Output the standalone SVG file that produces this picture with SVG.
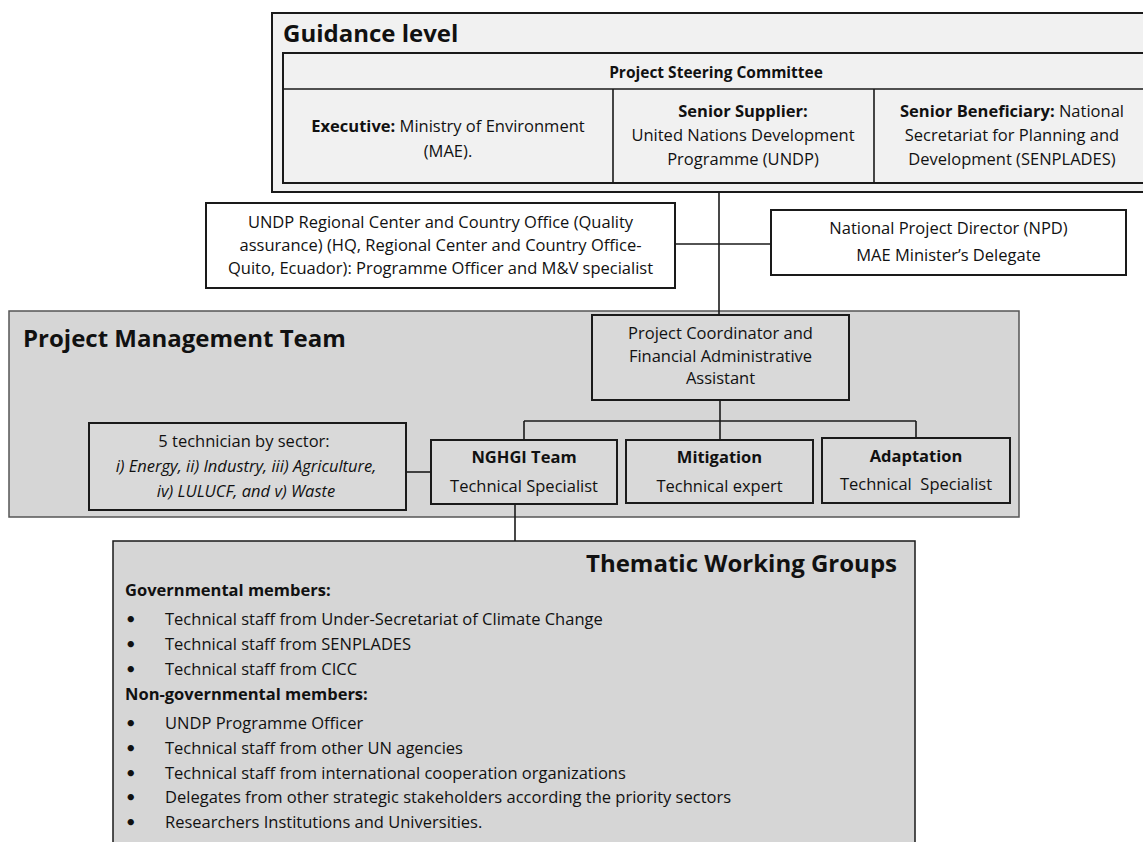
<svg xmlns="http://www.w3.org/2000/svg" width="1143" height="842" viewBox="0 0 1143 842">
<defs>
<style>
.t{font-family:"Open Sans","Liberation Sans",sans-serif;font-size:16.5px;fill:#111;}
.b{font-weight:bold;}
.i{font-style:italic;}
.c{text-anchor:middle;}
.bu{font-family:"DejaVu Sans","Liberation Sans",sans-serif;font-size:18px;font-weight:bold;fill:#111;}
.title{font-family:"Open Sans","Liberation Sans",sans-serif;font-size:24px;font-weight:bold;fill:#111;}
.box{fill:#d9d9d9;stroke:#1a1a1a;stroke-width:2;}
.wbox{fill:#ffffff;stroke:#1a1a1a;stroke-width:2;}
.lite{fill:#f1f1f1;stroke:#1a1a1a;stroke-width:2;}
.area{fill:#d6d6d6;stroke:#555;stroke-width:1.5;}
.con{fill:none;stroke:#1a1a1a;stroke-width:1.6;}
</style>
</defs>
<rect x="0" y="0" width="1143" height="842" fill="#ffffff"/>

<g id="guidance">
<rect class="lite" x="272" y="13" width="890" height="179"/>
<text class="title" x="283" y="42">Guidance level</text>
<rect class="lite" x="283" y="53" width="880" height="130"/>
<line class="con" x1="283" y1="89" x2="1143" y2="89"/>
<line class="con" x1="613" y1="89" x2="613" y2="183"/>
<line class="con" x1="874" y1="89" x2="874" y2="183"/>
<text class="t b c" x="716" y="78" style="font-size:15.5px">Project Steering Committee</text>
<text class="t c" x="448" y="132"><tspan class="b">Executive:</tspan> Ministry of Environment</text>
<text class="t c" x="448" y="157">(MAE).</text>
<text class="t c b" x="743" y="117">Senior Supplier:</text>
<text class="t c" x="743" y="141">United Nations Development</text>
<text class="t c" x="743" y="165">Programme (UNDP)</text>
<text class="t c" x="1012" y="117"><tspan class="b">Senior Beneficiary:</tspan> National</text>
<text class="t c" x="1012" y="141">Secretariat for Planning and</text>
<text class="t c" x="1012" y="165">Development (SENPLADES)</text>
</g>

<g id="undp">
<rect class="wbox" x="206" y="203" width="469" height="85"/>
<text class="t c" x="440.5" y="228">UNDP Regional Center and Country Office (Quality</text>
<text class="t c" x="440.5" y="251">assurance) (HQ, Regional Center and Country Office-</text>
<text class="t c" x="440.5" y="274">Quito, Ecuador): Programme Officer and M&amp;V specialist</text>
</g>

<g id="npd">
<rect class="wbox" x="771" y="210" width="355" height="65"/>
<text class="t c" x="948.5" y="234">National Project Director (NPD)</text>
<text class="t c" x="948.5" y="261">MAE Minister’s Delegate</text>
</g>

<g id="pmt">
<rect class="area" x="9" y="311" width="1010" height="206"/>
<text class="title" x="23" y="347">Project Management Team</text>
</g>

<g id="coordinator">
<rect class="box" x="592" y="315" width="257" height="85"/>
<text class="t c" x="720.5" y="339">Project Coordinator and</text>
<text class="t c" x="720.5" y="362">Financial Administrative</text>
<text class="t c" x="720.5" y="384">Assistant</text>
</g>

<g id="technicians">
<rect class="box" x="89" y="423" width="317" height="87"/>
<text class="t c" x="244" y="447">5 technician by sector:</text>
<text class="t c i" x="246" y="472">i) Energy, ii) Industry, iii) Agriculture,</text>
<text class="t c i" x="246" y="497">iv) LULUCF, and v) Waste</text>
</g>

<g id="nghgi">
<rect class="box" x="431" y="440" width="186" height="64"/>
<text class="t c b" x="524" y="463">NGHGI Team</text>
<text class="t c" x="524" y="492">Technical Specialist</text>
</g>

<g id="mitigation">
<rect class="box" x="626" y="440" width="187" height="63"/>
<text class="t c b" x="719.5" y="463">Mitigation</text>
<text class="t c" x="719.5" y="492">Technical expert</text>
</g>

<g id="adaptation">
<rect class="box" x="822" y="438" width="188" height="65"/>
<text class="t c b" x="916" y="462">Adaptation</text>
<text class="t c" x="916" y="490" style="white-space:pre">Technical  Specialist</text>
</g>

<g id="twg">
<rect class="area" x="113" y="541" width="802" height="320" style="stroke:#1a1a1a"/>
<text class="title" x="897" y="572" text-anchor="end">Thematic Working Groups</text>
<text class="t b" x="125" y="596">Governmental members:</text>
<text class="bu" x="125" y="626">•</text><text class="t" x="165" y="625">Technical staff from Under-Secretariat of Climate Change</text>
<text class="bu" x="125" y="651">•</text><text class="t" x="165" y="650">Technical staff from SENPLADES</text>
<text class="bu" x="125" y="676">•</text><text class="t" x="165" y="675">Technical staff from CICC</text>
<text class="t b" x="125" y="700">Non-governmental members:</text>
<text class="bu" x="125" y="730">•</text><text class="t" x="165" y="729">UNDP Programme Officer</text>
<text class="bu" x="125" y="755">•</text><text class="t" x="165" y="754">Technical staff from other UN agencies</text>
<text class="bu" x="125" y="780">•</text><text class="t" x="165" y="779">Technical staff from international cooperation organizations</text>
<text class="bu" x="125" y="804">•</text><text class="t" x="165" y="803">Delegates from other strategic stakeholders according the priority sectors</text>
<text class="bu" x="125" y="829">•</text><text class="t" x="165" y="828">Researchers Institutions and Universities.</text>
</g>

<g id="connectors">
<line class="con" x1="719" y1="192" x2="719" y2="315"/>
<line class="con" x1="675" y1="244" x2="771" y2="244"/>
<line class="con" x1="720" y1="400" x2="720" y2="440"/>
<line class="con" x1="524" y1="421" x2="916" y2="421"/>
<line class="con" x1="524" y1="421" x2="524" y2="440"/>
<line class="con" x1="916" y1="421" x2="916" y2="438"/>
<line class="con" x1="406" y1="472" x2="431" y2="472"/>
<line class="con" x1="515" y1="504" x2="515" y2="541"/>
</g>
</svg>
